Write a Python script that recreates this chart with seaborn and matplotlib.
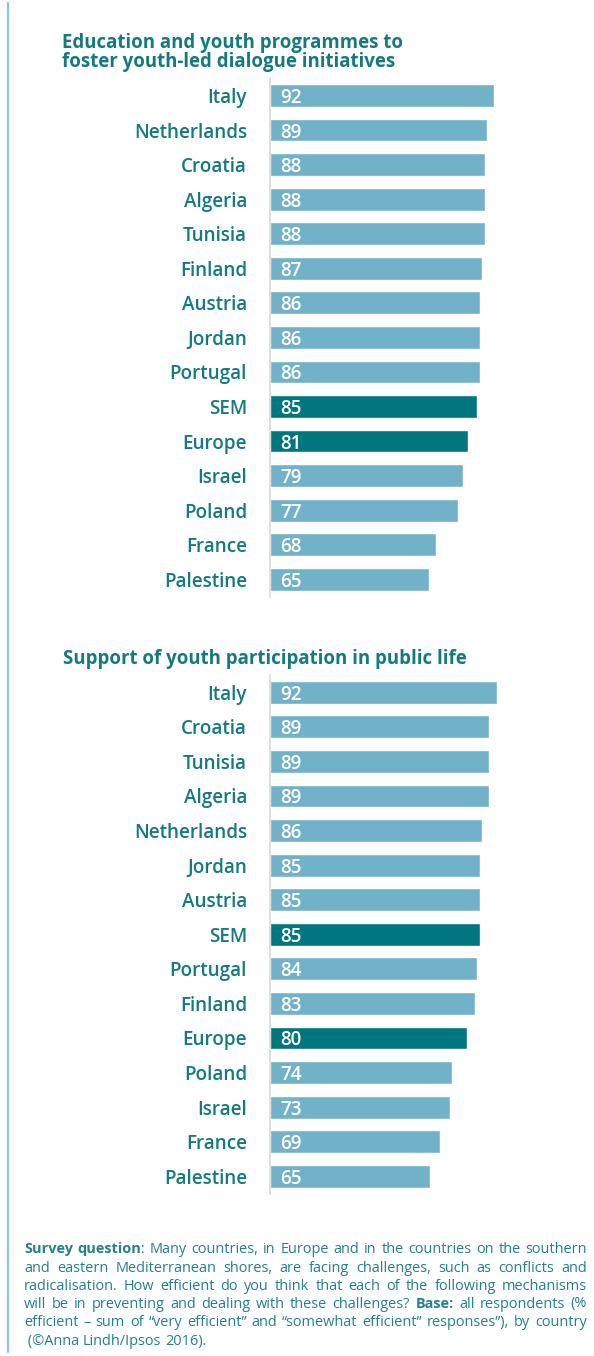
import matplotlib
matplotlib.use("Agg")
import matplotlib.pyplot as plt
import seaborn as sns
import pandas as pd
from matplotlib.font_manager import FontProperties
from matplotlib.lines import Line2D

# ---------------- data ----------------
title1_lines = ["Education and youth programmes to", "foster youth-led dialogue initiatives"]
countries1 = ["Italy", "Netherlands", "Croatia", "Algeria", "Tunisia", "Finland", "Austria",
              "Jordan", "Portugal", "SEM", "Europe", "Israel", "Poland", "France", "Palestine"]
values1 = [92, 89, 88, 88, 88, 87, 86, 86, 86, 85, 81, 79, 77, 68, 65]

title2 = "Support of youth participation in public life"
countries2 = ["Italy", "Croatia", "Tunisia", "Algeria", "Netherlands", "Jordan", "Austria",
              "SEM", "Portugal", "Finland", "Europe", "Poland", "Israel", "France", "Palestine"]
values2 = [92, 89, 89, 89, 86, 85, 85, 85, 84, 83, 80, 74, 73, 69, 65]

aggregates = ["SEM", "Europe"]

# footer: list of lines, each line a list of words, each word a list of (text, bold) runs
footer_lines = [
    [[("Survey", True)], [("question", True), (":", False)], [("Many", False)], [("countries,", False)],
     [("in", False)], [("Europe", False)], [("and", False)], [("in", False)], [("the", False)],
     [("countries", False)], [("on", False)], [("the", False)], [("southern", False)]],
    [[(w, False)] for w in "and eastern Mediterranean shores, are facing challenges, such as conflicts and".split()],
    [[(w, False)] for w in "radicalisation. How efficient do you think that each of the following mechanisms".split()],
    [[(w, False)] for w in "will be in preventing and dealing with these challenges?".split()]
    + [[("Base:", True)]] + [[(w, False)] for w in "all respondents (%".split()],
    [[(w, False)] for w in "efficient \u2013 sum of \u201cvery efficient\u201d and \u201csomewhat efficient\u201d responses\u201d), by country".split()],
    [[(" (\u00a9Anna", False)], [("Lindh/Ipsos", False)], [("2016).", False)]],
]

# ---------------- style ----------------
LIGHT = "#72b2c9"
DARK = "#00767e"
TEXT = "#147a80"
FOOT = "#22818a"
SPINE = "#dcdcdc"
FONT = "Open Sans"

sns.set_theme(style="white")
plt.rcParams["font.family"] = [FONT, "DejaVu Sans"]

W, H = 594, 1356
fig = plt.figure(figsize=(W / 100, H / 100), dpi=100)


def fx(px):
    return px / W


def fy(py):
    return 1 - py / H


def make_panel(countries, values, top_px, bottom_px, xmax):
    ax = fig.add_axes([fx(270), fy(bottom_px), fx(310), (bottom_px - top_px) / H])
    df = pd.DataFrame({
        "country": countries,
        "value": values,
        "kind": ["agg" if c in aggregates else "cty" for c in countries],
    })
    sns.barplot(data=df, x="value", y="country", hue="kind", order=countries,
                palette={"agg": DARK, "cty": LIGHT}, dodge=False, width=0.66,
                legend=False, ax=ax, saturation=1)
    ax.set_xlim(0, xmax)
    ax.set_ylim(len(countries) - 0.5, -0.5)
    ax.set_xlabel("")
    ax.set_ylabel("")
    ax.set_xticks([])
    for s in ["top", "right", "bottom"]:
        ax.spines[s].set_visible(False)
    ax.spines["left"].set_color(SPINE)
    ax.spines["left"].set_linewidth(1.3)
    ax.tick_params(axis="y", length=0, pad=16.5)
    for lab in ax.get_yticklabels():
        lab.set_color(TEXT)
        lab.set_fontsize(13.6)
        lab.set_fontweight("semibold")
        lab.set_fontfamily([FONT, "DejaVu Sans"])
    for i, v in enumerate(values):
        ax.annotate(str(v), xy=(0, i), xytext=(7.6, 0), textcoords="offset points",
                    va="center_baseline", ha="left", color="white", fontsize=13.6,
                    fontweight="semibold")
    ax.patch.set_alpha(0)
    return ax


make_panel(countries1, values1, 78.2, 596.5, 310 / 2.44)
make_panel(countries2, values2, 674.9, 1193.6, 310 / 2.465)

# titles
TS = 13.45
fig.text(fx(61.5), fy(48.3), title1_lines[0], color=TEXT, fontsize=TS, fontweight="bold",
         va="baseline", ha="left")
fig.text(fx(61.5), fy(67.3), title1_lines[1], color=TEXT, fontsize=TS, fontweight="bold",
         va="baseline", ha="left")
fig.text(fx(63), fy(664), title2, color=TEXT, fontsize=TS, fontweight="bold",
         va="baseline", ha="left")

# left decorative rule
fig.add_artist(Line2D([fx(7.5), fx(7.5)], [fy(3), fy(1352)], color="#8cc4dc", lw=1.6))

# footer, justified
renderer = fig.canvas.get_renderer()


def run_width(text, bold, size):
    fp = FontProperties(family=[FONT, "DejaVu Sans"], weight="bold" if bold else "normal", size=size)
    w, h, d = renderer.get_text_width_height_descent(text, fp, ismath=False)
    return w


def word_width(word, size):
    return sum(run_width(t, b, size) for t, b in word)


def space_width(size):
    return run_width("a a", False, size) - run_width("aa", False, size)


x0, x1 = 24.0, 587.0
target = x1 - x0
base_size = 10.0
nat = []
for line in footer_lines[:-1]:
    nat.append(sum(word_width(w, base_size) for w in line) + space_width(base_size) * (len(line) - 1))
fs = base_size * target / max(nat) * 0.985

baselines = [1253.3, 1271.7, 1289.5, 1307.5, 1325.7, 1345.0]
space = space_width(fs)
for li, (line, by) in enumerate(zip(footer_lines, baselines)):
    widths = [word_width(w, fs) for w in line]
    if li < len(footer_lines) - 1 and len(line) > 1:
        gap = (target - sum(widths)) / (len(line) - 1)
    else:
        gap = space
    x = x0
    for word, ww in zip(line, widths):
        xr = x
        for t, b in word:
            fig.text(fx(xr), fy(by), t, color=FOOT, fontsize=fs,
                     fontweight="bold" if b else "normal", va="baseline", ha="left")
            xr += run_width(t, b, fs)
        x += ww + gap

fig.savefig("out.png", dpi=100)
